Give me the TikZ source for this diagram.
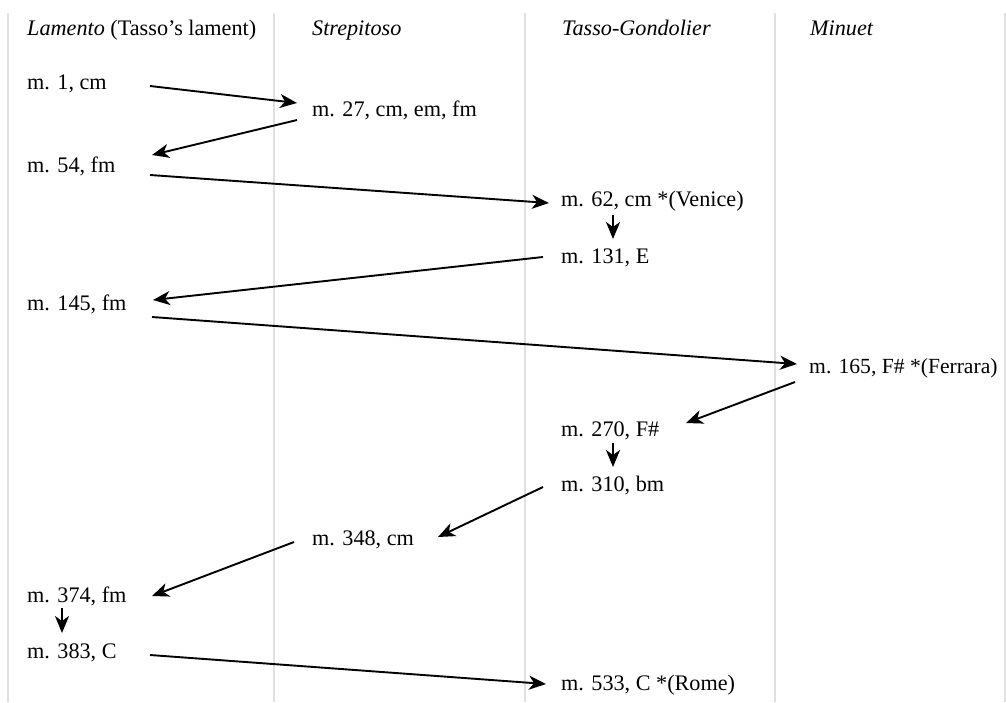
\documentclass[tikz,border=0pt]{standalone}
\usepackage{fontspec}
\setmainfont{Liberation Serif}
\usetikzlibrary{arrows.meta}

\begin{document}
\begin{tikzpicture}[x = 1pt, y = -1pt,
  entry/.style = {anchor = base west, inner sep = 0, font = \fontsize{22.2}{27}\selectfont},
  flow/.style = {-{Stealth[length = 17pt, width = 14pt, inset = 5pt]}, line width = 1.9pt}]
  \useasboundingbox (0, 0) rectangle (1006, 702);

  \foreach \x in {8, 274, 525, 775, 1005}
    \draw[line width = 1.5pt, black!12] (\x, 13) -- (\x, 702);

  \node[entry] (hdLamento) at (27, 35) {\textit{Lamento} (Tasso’s lament)};
  \node[entry] (hdStrep) at (312, 35) {\textit{Strepitoso}};
  \node[entry] (hdTasso) at (562, 35) {\textit{Tasso-Gondolier}};
  \node[entry] (hdMinuet) at (810, 35) {\textit{Minuet}};

  \node[entry] (m1) at (27, 89) {m. 1, cm};
  \node[entry] (m27) at (312, 116) {m. 27, cm, em, fm};
  \node[entry] (m54) at (27, 172) {m. 54, fm};
  \node[entry] (m62) at (561, 206) {m. 62, cm *(Venice)};
  \node[entry] (m131) at (561, 263) {m. 131, E};
  \node[entry] (m145) at (27, 310) {m. 145, fm};
  \node[entry, font = \fontsize{21.6}{27}\selectfont] (m165) at (809, 373) {m. 165, F\# *(Ferrara)};
  \node[entry] (m270) at (561, 436) {m. 270, F\#};
  \node[entry] (m310) at (561, 491) {m. 310, bm};
  \node[entry] (m348) at (312, 545) {m. 348, cm};
  \node[entry] (m374) at (27, 602) {m. 374, fm};
  \node[entry] (m383) at (27, 658) {m. 383, C};
  \node[entry] (m533) at (561, 690) {m. 533, C *(Rome)};

  \draw[flow] ([shift = {(123, -3)}]m1.base west) -- ([shift = {(-15, -13)}]m27.base west);
  \draw[flow] ([shift = {(-15, 4)}]m27.base west) -- ([shift = {(125, -17)}]m54.base west);
  \draw[flow] ([shift = {(123, 3)}]m54.base west) -- ([shift = {(-12, -3)}]m62.base west);
  \draw[flow] ([shift = {(52, 9)}]m62.base west) -- ([shift = {(52, -24)}]m131.base west);
  \draw[flow] ([shift = {(-18, -6)}]m131.base west) -- ([shift = {(126, -10)}]m145.base west);
  \draw[flow] ([shift = {(125, 7)}]m145.base west) -- ([shift = {(-12, -9)}]m165.base west);
  \draw[flow] ([shift = {(-14, 9)}]m165.base west) -- ([shift = {(125, -13)}]m270.base west);
  \draw[flow] ([shift = {(52, 7)}]m270.base west) -- ([shift = {(52, -24)}]m310.base west);
  \draw[flow] ([shift = {(-18, -4)}]m310.base west) -- ([shift = {(126, -8)}]m348.base west);
  \draw[flow] ([shift = {(-18, -3)}]m348.base west) -- ([shift = {(125, -6)}]m374.base west);
  \draw[flow] ([shift = {(35, 6)}]m374.base west) -- ([shift = {(35, -25)}]m383.base west);
  \draw[flow] ([shift = {(123, -3)}]m383.base west) -- ([shift = {(-15, -6)}]m533.base west);
\end{tikzpicture}
\end{document}
